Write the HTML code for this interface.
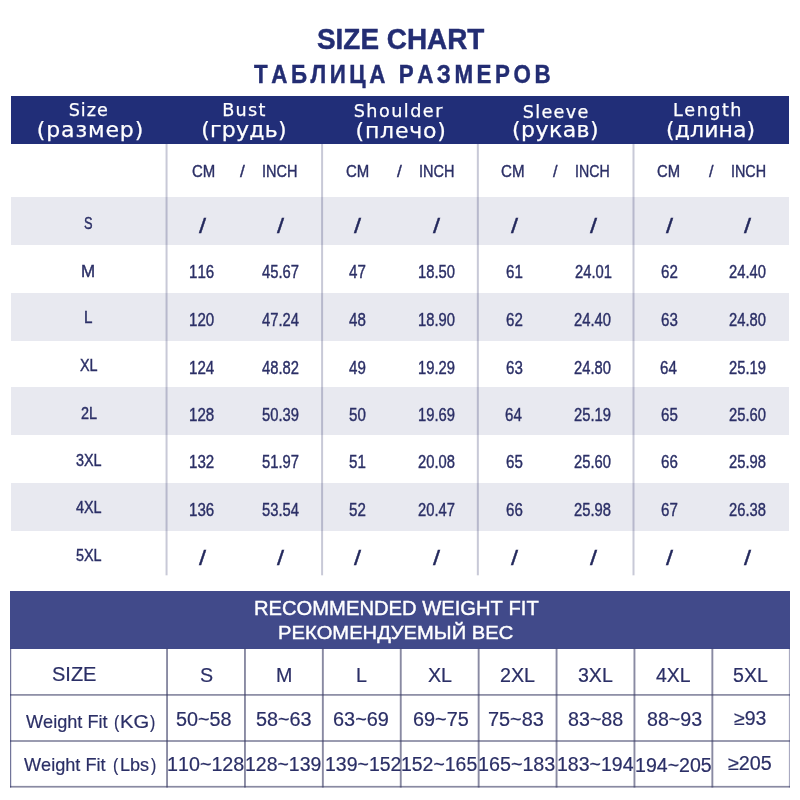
<!DOCTYPE html>
<html lang="ru">
<head>
<meta charset="utf-8">
<title>SIZE CHART / ТАБЛИЦА РАЗМЕРОВ</title>
<style>
html,body{margin:0;padding:0;background:#fff;}
body{width:800px;height:800px;overflow:hidden;}
#page{position:relative;width:800px;height:800px;background:#fff;overflow:hidden;font-family:"Liberation Sans",sans-serif;color:#2b2f66;font-kerning:none;}
.t{position:absolute;white-space:nowrap;line-height:1;transform-origin:0 0;margin:0;padding:0;font-weight:400;font-family:"Liberation Sans",sans-serif;}
.dv{font-family:"DejaVu Sans","Liberation Sans",sans-serif;}
.b{font-weight:700;}
.w{color:#fff;-webkit-text-stroke:0.25px #fff;}
.w2{-webkit-text-stroke:0.4px #fff;}
.h1,.h2{color:#232d73;-webkit-text-stroke:0.45px #232d73;}
.sl{color:#23285c;-webkit-text-stroke:0.35px #23285c;}
.d{-webkit-text-stroke:0.4px #2b2f66;}
.e{-webkit-text-stroke:0.2px #2b2f66;}
.band{position:absolute;}
.grid{position:absolute;left:0;top:0;pointer-events:none;}
.shade{position:absolute;left:11px;width:778px;height:47.75px;background:#e8e9f0;}
</style>
</head>
<body>
<div id="page">
<header><span class="t b h1" style="left:316.70px;top:23px;font-size:29px;line-height:32px;transform:scaleX(0.9621);">SIZE CHART</span>
<span class="t b h2" style="left:254.05px;top:60px;font-size:25.4px;line-height:28px;letter-spacing:4.042px;transform:scaleX(0.8800);">ТАБЛИЦА РАЗМЕРОВ</span></header>
<section id="chart">
<div class="band" style="left:11px;top:96px;width:778px;height:48px;background:#212e78"></div>
<span class="t dv w" style="left:68.64px;top:100px;font-size:17.6px;line-height:20px;letter-spacing:1.056px;">Size</span>
<span class="t dv w" style="left:36.71px;top:117px;font-size:22px;line-height:25px;letter-spacing:0.882px;">(размер)</span>
<span class="t dv w" style="left:222.27px;top:100px;font-size:17.6px;line-height:20px;letter-spacing:1.283px;">Bust</span>
<span class="t dv w" style="left:201.31px;top:117px;font-size:22px;line-height:25px;letter-spacing:0.216px;">(грудь)</span>
<span class="t dv w" style="left:353.64px;top:101px;font-size:17.6px;line-height:20px;letter-spacing:1.484px;">Shoulder</span>
<span class="t dv w" style="left:355.51px;top:118px;font-size:22px;line-height:25px;letter-spacing:0.796px;">(плечо)</span>
<span class="t dv w" style="left:522.84px;top:102px;font-size:17.6px;line-height:20px;letter-spacing:1.287px;">Sleeve</span>
<span class="t dv w" style="left:512.11px;top:117px;font-size:22px;line-height:25px;letter-spacing:0.416px;">(рукав)</span>
<span class="t dv w" style="left:673.07px;top:100px;font-size:17.6px;line-height:20px;letter-spacing:1.481px;">Length</span>
<span class="t dv w" style="left:666.11px;top:117px;font-size:22px;line-height:25px;letter-spacing:0.063px;">(длина)</span>
<div class="shade" style="top:197px;height:48.0px"></div>
<div class="shade" style="top:293px;height:48.0px"></div>
<div class="shade" style="top:387px;height:48.0px"></div>
<div class="shade" style="top:483px;height:47.6px"></div>
<svg class="grid" width="800" height="800" viewBox="0 0 800 800" aria-hidden="true"><rect x="165.55" y="144" width="2" height="431.3" fill="rgba(43,47,102,0.26)"/><rect x="321.10" y="144" width="2" height="431.3" fill="rgba(43,47,102,0.26)"/><rect x="476.85" y="144" width="2" height="431.3" fill="rgba(43,47,102,0.26)"/><rect x="632.50" y="144" width="2" height="431.3" fill="rgba(43,47,102,0.26)"/></svg>
<span class="t d" style="left:191.54px;top:161px;font-size:17.4px;line-height:20px;transform:scaleX(0.8606);">CM</span>
<span class="t d" style="left:239.50px;top:161px;font-size:17.4px;line-height:20px;transform:scaleX(0.9929);">/</span>
<span class="t d" style="left:262.26px;top:161px;font-size:17.4px;line-height:20px;transform:scaleX(0.8328);">INCH</span>
<span class="t d" style="left:345.54px;top:161px;font-size:17.4px;line-height:20px;transform:scaleX(0.8606);">CM</span>
<span class="t d" style="left:397.00px;top:161px;font-size:17.4px;line-height:20px;transform:scaleX(0.9929);">/</span>
<span class="t d" style="left:419.26px;top:161px;font-size:17.4px;line-height:20px;transform:scaleX(0.8328);">INCH</span>
<span class="t d" style="left:500.83px;top:161px;font-size:17.4px;line-height:20px;transform:scaleX(0.8687);">CM</span>
<span class="t d" style="left:552.80px;top:161px;font-size:17.4px;line-height:20px;transform:scaleX(0.9309);">/</span>
<span class="t d" style="left:575.29px;top:161px;font-size:17.4px;line-height:20px;transform:scaleX(0.8150);">INCH</span>
<span class="t d" style="left:656.85px;top:161px;font-size:17.4px;line-height:20px;transform:scaleX(0.8526);">CM</span>
<span class="t d" style="left:708.50px;top:161px;font-size:17.4px;line-height:20px;transform:scaleX(0.9309);">/</span>
<span class="t d" style="left:730.57px;top:161px;font-size:17.4px;line-height:20px;transform:scaleX(0.8252);">INCH</span>
<div class="row"><span class="t d" style="left:84.43px;top:215px;font-size:16px;line-height:17px;transform:scaleX(0.8000);">S</span>
<span class="t sl" style="left:198.78px;top:215px;font-size:19.5px;line-height:22px;transform:scaleX(1.3000);">/</span>
<span class="t sl" style="left:277.28px;top:215px;font-size:19.5px;line-height:22px;transform:scaleX(1.3000);">/</span>
<span class="t sl" style="left:353.78px;top:215px;font-size:19.5px;line-height:22px;transform:scaleX(1.3000);">/</span>
<span class="t sl" style="left:433.28px;top:215px;font-size:19.5px;line-height:22px;transform:scaleX(1.3000);">/</span>
<span class="t sl" style="left:510.78px;top:215px;font-size:19.5px;line-height:22px;transform:scaleX(1.3000);">/</span>
<span class="t sl" style="left:589.78px;top:215px;font-size:19.5px;line-height:22px;transform:scaleX(1.3000);">/</span>
<span class="t sl" style="left:665.78px;top:215px;font-size:19.5px;line-height:22px;transform:scaleX(1.3000);">/</span>
<span class="t sl" style="left:744.28px;top:215px;font-size:19.5px;line-height:22px;transform:scaleX(1.3000);">/</span></div>
<div class="row"><span class="t d" style="left:81.24px;top:263px;font-size:16px;line-height:17px;transform:scaleX(1.0600);">M</span>
<span class="t d" style="left:189.13px;top:262px;font-size:17.8px;line-height:20px;transform:scaleX(0.8500);">116</span>
<span class="t d" style="left:262.22px;top:262px;font-size:17.8px;line-height:20px;transform:scaleX(0.8300);">45.67</span>
<span class="t d" style="left:348.79px;top:262px;font-size:17.8px;line-height:20px;transform:scaleX(0.8500);">47</span>
<span class="t d" style="left:417.74px;top:262px;font-size:17.8px;line-height:20px;transform:scaleX(0.8300);">18.50</span>
<span class="t d" style="left:505.57px;top:262px;font-size:17.8px;line-height:20px;transform:scaleX(0.8500);">61</span>
<span class="t d" style="left:574.50px;top:262px;font-size:17.8px;line-height:20px;transform:scaleX(0.8300);">24.01</span>
<span class="t d" style="left:660.58px;top:262px;font-size:17.8px;line-height:20px;transform:scaleX(0.8500);">62</span>
<span class="t d" style="left:728.93px;top:262px;font-size:17.8px;line-height:20px;transform:scaleX(0.8300);">24.40</span></div>
<div class="row"><span class="t d" style="left:83.90px;top:309px;font-size:16px;line-height:17px;transform:scaleX(0.9500);">L</span>
<span class="t d" style="left:189.10px;top:310px;font-size:17.8px;line-height:20px;transform:scaleX(0.8500);">120</span>
<span class="t d" style="left:262.06px;top:310px;font-size:17.8px;line-height:20px;transform:scaleX(0.8300);">47.24</span>
<span class="t d" style="left:348.74px;top:310px;font-size:17.8px;line-height:20px;transform:scaleX(0.8500);">48</span>
<span class="t d" style="left:417.74px;top:310px;font-size:17.8px;line-height:20px;transform:scaleX(0.8300);">18.90</span>
<span class="t d" style="left:505.58px;top:310px;font-size:17.8px;line-height:20px;transform:scaleX(0.8500);">62</span>
<span class="t d" style="left:574.43px;top:310px;font-size:17.8px;line-height:20px;transform:scaleX(0.8300);">24.40</span>
<span class="t d" style="left:660.53px;top:310px;font-size:17.8px;line-height:20px;transform:scaleX(0.8500);">63</span>
<span class="t d" style="left:728.93px;top:310px;font-size:17.8px;line-height:20px;transform:scaleX(0.8300);">24.80</span></div>
<div class="row"><span class="t d" style="left:79.97px;top:357px;font-size:16px;line-height:17px;transform:scaleX(0.9000);">XL</span>
<span class="t d" style="left:189.02px;top:358px;font-size:17.8px;line-height:20px;transform:scaleX(0.8500);">124</span>
<span class="t d" style="left:262.22px;top:358px;font-size:17.8px;line-height:20px;transform:scaleX(0.8300);">48.82</span>
<span class="t d" style="left:348.77px;top:358px;font-size:17.8px;line-height:20px;transform:scaleX(0.8500);">49</span>
<span class="t d" style="left:417.80px;top:358px;font-size:17.8px;line-height:20px;transform:scaleX(0.8300);">19.29</span>
<span class="t d" style="left:505.53px;top:358px;font-size:17.8px;line-height:20px;transform:scaleX(0.8500);">63</span>
<span class="t d" style="left:574.43px;top:358px;font-size:17.8px;line-height:20px;transform:scaleX(0.8300);">24.80</span>
<span class="t d" style="left:660.42px;top:358px;font-size:17.8px;line-height:20px;transform:scaleX(0.8500);">64</span>
<span class="t d" style="left:728.99px;top:358px;font-size:17.8px;line-height:20px;transform:scaleX(0.8300);">25.19</span></div>
<div class="row"><span class="t d" style="left:80.57px;top:405px;font-size:16px;line-height:17px;transform:scaleX(0.9000);">2L</span>
<span class="t d" style="left:189.13px;top:405px;font-size:17.8px;line-height:20px;transform:scaleX(0.8500);">128</span>
<span class="t d" style="left:262.07px;top:405px;font-size:17.8px;line-height:20px;transform:scaleX(0.8300);">50.39</span>
<span class="t d" style="left:348.58px;top:405px;font-size:17.8px;line-height:20px;transform:scaleX(0.8500);">50</span>
<span class="t d" style="left:417.80px;top:405px;font-size:17.8px;line-height:20px;transform:scaleX(0.8300);">19.69</span>
<span class="t d" style="left:505.42px;top:405px;font-size:17.8px;line-height:20px;transform:scaleX(0.8500);">64</span>
<span class="t d" style="left:574.49px;top:405px;font-size:17.8px;line-height:20px;transform:scaleX(0.8300);">25.19</span>
<span class="t d" style="left:660.52px;top:405px;font-size:17.8px;line-height:20px;transform:scaleX(0.8500);">65</span>
<span class="t d" style="left:728.93px;top:405px;font-size:17.8px;line-height:20px;transform:scaleX(0.8300);">25.60</span></div>
<div class="row"><span class="t d" style="left:75.65px;top:452px;font-size:16px;line-height:17px;transform:scaleX(0.9000);">3XL</span>
<span class="t d" style="left:189.18px;top:452px;font-size:17.8px;line-height:20px;transform:scaleX(0.8500);">132</span>
<span class="t d" style="left:262.09px;top:452px;font-size:17.8px;line-height:20px;transform:scaleX(0.8300);">51.97</span>
<span class="t d" style="left:348.65px;top:452px;font-size:17.8px;line-height:20px;transform:scaleX(0.8500);">51</span>
<span class="t d" style="left:417.96px;top:452px;font-size:17.8px;line-height:20px;transform:scaleX(0.8300);">20.08</span>
<span class="t d" style="left:505.52px;top:452px;font-size:17.8px;line-height:20px;transform:scaleX(0.8500);">65</span>
<span class="t d" style="left:574.43px;top:452px;font-size:17.8px;line-height:20px;transform:scaleX(0.8300);">25.60</span>
<span class="t d" style="left:660.53px;top:452px;font-size:17.8px;line-height:20px;transform:scaleX(0.8500);">66</span>
<span class="t d" style="left:728.96px;top:452px;font-size:17.8px;line-height:20px;transform:scaleX(0.8300);">25.98</span></div>
<div class="row"><span class="t d" style="left:75.76px;top:499px;font-size:16px;line-height:17px;transform:scaleX(0.9000);">4XL</span>
<span class="t d" style="left:189.13px;top:500px;font-size:17.8px;line-height:20px;transform:scaleX(0.8500);">136</span>
<span class="t d" style="left:261.94px;top:500px;font-size:17.8px;line-height:20px;transform:scaleX(0.8300);">53.54</span>
<span class="t d" style="left:348.66px;top:500px;font-size:17.8px;line-height:20px;transform:scaleX(0.8500);">52</span>
<span class="t d" style="left:418.01px;top:500px;font-size:17.8px;line-height:20px;transform:scaleX(0.8300);">20.47</span>
<span class="t d" style="left:505.53px;top:500px;font-size:17.8px;line-height:20px;transform:scaleX(0.8500);">66</span>
<span class="t d" style="left:574.46px;top:500px;font-size:17.8px;line-height:20px;transform:scaleX(0.8300);">25.98</span>
<span class="t d" style="left:660.58px;top:500px;font-size:17.8px;line-height:20px;transform:scaleX(0.8500);">67</span>
<span class="t d" style="left:728.96px;top:500px;font-size:17.8px;line-height:20px;transform:scaleX(0.8300);">26.38</span></div>
<div class="row"><span class="t d" style="left:75.64px;top:547px;font-size:16px;line-height:17px;transform:scaleX(0.9000);">5XL</span>
<span class="t sl" style="left:198.78px;top:547px;font-size:19.5px;line-height:22px;transform:scaleX(1.3000);">/</span>
<span class="t sl" style="left:277.28px;top:547px;font-size:19.5px;line-height:22px;transform:scaleX(1.3000);">/</span>
<span class="t sl" style="left:353.78px;top:547px;font-size:19.5px;line-height:22px;transform:scaleX(1.3000);">/</span>
<span class="t sl" style="left:433.28px;top:547px;font-size:19.5px;line-height:22px;transform:scaleX(1.3000);">/</span>
<span class="t sl" style="left:510.78px;top:547px;font-size:19.5px;line-height:22px;transform:scaleX(1.3000);">/</span>
<span class="t sl" style="left:589.78px;top:547px;font-size:19.5px;line-height:22px;transform:scaleX(1.3000);">/</span>
<span class="t sl" style="left:665.78px;top:547px;font-size:19.5px;line-height:22px;transform:scaleX(1.3000);">/</span>
<span class="t sl" style="left:744.28px;top:547px;font-size:19.5px;line-height:22px;transform:scaleX(1.3000);">/</span></div>
</section>
<section id="weight">
<div class="band" style="left:10px;top:591px;width:780px;height:57.6px;background:#414a8a"></div>
<span class="t w w2" style="left:253.54px;top:597px;font-size:19.4px;line-height:22px;transform:scaleX(1.0408);">RECOMMENDED WEIGHT FIT</span>
<span class="t w w2" style="left:278.34px;top:622px;font-size:19.2px;line-height:21px;transform:scaleX(1.0510);">РЕКОМЕНДУЕМЫЙ ВЕС</span>
<svg class="grid" width="800" height="800" viewBox="0 0 800 800" aria-hidden="true"><rect x="10" y="694.05" width="780" height="1.7" fill="rgba(58,60,100,0.6)"/><rect x="10" y="740.15" width="780" height="1.7" fill="rgba(58,60,100,0.6)"/><rect x="10" y="785.90" width="780" height="1.7" fill="rgba(58,60,100,0.6)"/><rect x="166.10" y="648.5" width="1.9" height="139" fill="rgba(58,60,100,0.6)"/><rect x="244.00" y="648.5" width="1.9" height="139" fill="rgba(58,60,100,0.6)"/><rect x="321.90" y="648.5" width="1.9" height="139" fill="rgba(58,60,100,0.6)"/><rect x="399.80" y="648.5" width="1.9" height="139" fill="rgba(58,60,100,0.6)"/><rect x="477.70" y="648.5" width="1.9" height="139" fill="rgba(58,60,100,0.6)"/><rect x="555.60" y="648.5" width="1.9" height="139" fill="rgba(58,60,100,0.6)"/><rect x="633.50" y="648.5" width="1.9" height="139" fill="rgba(58,60,100,0.6)"/><rect x="711.40" y="648.5" width="1.9" height="139" fill="rgba(58,60,100,0.6)"/><rect x="10.05" y="648.5" width="1.15" height="139" fill="rgba(43,47,102,0.7)"/><rect x="788.9" y="648.5" width="1.0" height="139" fill="rgba(43,47,102,0.45)"/></svg>
<span class="t e " style="left:52.09px;top:664px;font-size:19.3px;line-height:21px;transform:scaleX(1.0366);">SIZE</span>
<span class="t e " style="left:199.74px;top:665px;font-size:19.3px;line-height:21px;transform:scaleX(1.0200);">S</span>
<span class="t e " style="left:276.10px;top:665px;font-size:19.3px;line-height:21px;transform:scaleX(1.0200);">M</span>
<span class="t e " style="left:355.55px;top:665px;font-size:19.3px;line-height:21px;transform:scaleX(1.0200);">L</span>
<span class="t e " style="left:428.37px;top:665px;font-size:19.3px;line-height:21px;transform:scaleX(1.0200);">XL</span>
<span class="t e " style="left:500.01px;top:665px;font-size:19.3px;line-height:21px;transform:scaleX(1.0205);">2XL</span>
<span class="t e " style="left:578.26px;top:665px;font-size:19.3px;line-height:21px;transform:scaleX(1.0132);">3XL</span>
<span class="t e " style="left:655.76px;top:665px;font-size:19.3px;line-height:21px;transform:scaleX(1.0043);">4XL</span>
<span class="t e " style="left:733.22px;top:665px;font-size:19.3px;line-height:21px;transform:scaleX(1.0144);">5XL</span>
<span class="t e " style="left:25.92px;top:711px;font-size:18.4px;line-height:21px;transform:scaleX(0.9854);">Weight Fit</span>
<span class="t e " style="left:114.42px;top:711px;font-size:18.4px;line-height:21px;transform:scaleX(0.8609);">(</span>
<span class="t e " style="left:120.34px;top:711px;font-size:18.4px;line-height:21px;transform:scaleX(1.0970);">KG</span>
<span class="t e " style="left:149.91px;top:711px;font-size:18.4px;line-height:21px;transform:scaleX(0.8609);">)</span>
<span class="t e " style="left:176.21px;top:709px;font-size:19.3px;line-height:21px;transform:scaleX(1.0267);">50~58</span>
<span class="t e " style="left:256.21px;top:709px;font-size:19.3px;line-height:21px;transform:scaleX(1.0269);">58~63</span>
<span class="t e " style="left:332.99px;top:709px;font-size:19.3px;line-height:21px;transform:scaleX(1.0323);">63~69</span>
<span class="t e " style="left:412.99px;top:709px;font-size:19.3px;line-height:21px;transform:scaleX(1.0302);">69~75</span>
<span class="t e " style="left:487.98px;top:709px;font-size:19.3px;line-height:21px;transform:scaleX(1.0312);">75~83</span>
<span class="t e " style="left:567.74px;top:709px;font-size:19.3px;line-height:21px;transform:scaleX(1.0204);">83~88</span>
<span class="t e " style="left:647.15px;top:709px;font-size:19.3px;line-height:21px;transform:scaleX(1.0187);">88~93</span>
<span class="t e " style="left:733.68px;top:708px;font-size:19.3px;line-height:21px;transform:scaleX(1.0098);">≥93</span>
<span class="t e " style="left:24.12px;top:754px;font-size:18.4px;line-height:21px;transform:scaleX(0.9854);">Weight Fit</span>
<span class="t e " style="left:113.42px;top:754px;font-size:18.4px;line-height:21px;transform:scaleX(0.8609);">(</span>
<span class="t e " style="left:119.52px;top:754px;font-size:18.4px;line-height:21px;transform:scaleX(0.9821);">Lbs</span>
<span class="t e " style="left:150.91px;top:754px;font-size:18.4px;line-height:21px;transform:scaleX(0.8609);">)</span>
<span class="t e " style="left:166.50px;top:754px;font-size:19.3px;line-height:21px;transform:scaleX(1.0223);">110~128</span>
<span class="t e " style="left:244.52px;top:754px;font-size:19.3px;line-height:21px;transform:scaleX(1.0097);">128~139</span>
<span class="t e " style="left:324.51px;top:754px;font-size:19.3px;line-height:21px;transform:scaleX(1.0105);">139~152</span>
<span class="t e " style="left:400.52px;top:754px;font-size:19.3px;line-height:21px;transform:scaleX(1.0083);">152~165</span>
<span class="t e " style="left:477.50px;top:754px;font-size:19.3px;line-height:21px;transform:scaleX(1.0224);">165~183</span>
<span class="t e " style="left:556.51px;top:754px;font-size:19.3px;line-height:21px;transform:scaleX(1.0131);">183~194</span>
<span class="t e " style="left:635.31px;top:755px;font-size:19.3px;line-height:21px;transform:scaleX(1.0151);">194~205</span>
<span class="t e " style="left:728.37px;top:753px;font-size:19.3px;line-height:21px;transform:scaleX(1.0249);">≥205</span>
</section>
</div>
</body>
</html>
